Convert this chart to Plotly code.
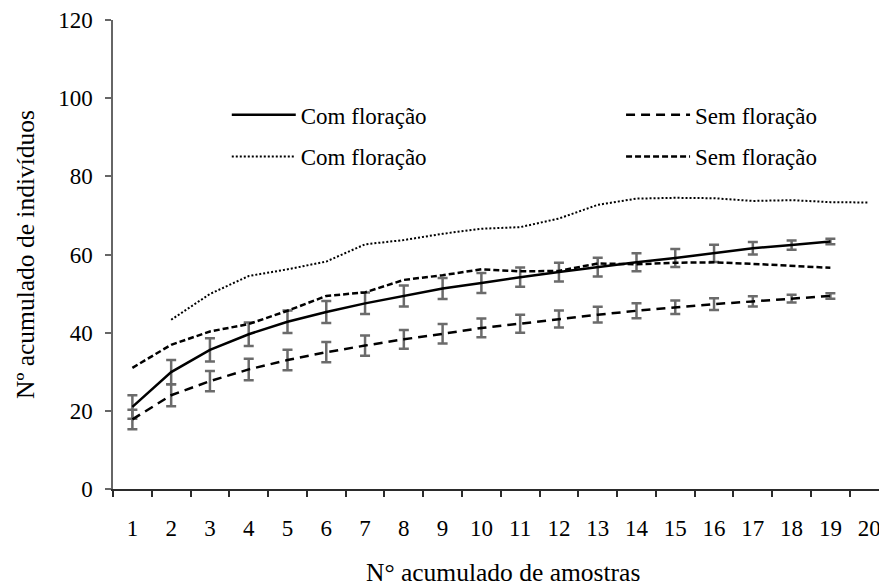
import plotly.graph_objects as go

samples = list(range(1, 21))

com_flor_mean = [21.0, 29.9, 35.6, 39.6, 42.8, 45.3, 47.5, 49.4, 51.3, 52.7, 54.2, 55.5, 56.8, 58.0, 59.1, 60.3, 61.6, 62.4, 63.3]
com_flor_err = [3.0, 3.1, 3.0, 3.0, 2.9, 2.8, 2.75, 2.7, 2.7, 2.55, 2.45, 2.4, 2.4, 2.3, 2.3, 2.2, 1.6, 1.2, 0.7]

sem_flor_mean = [17.8, 24.0, 27.6, 30.6, 33.0, 35.0, 36.7, 38.3, 39.7, 41.2, 42.3, 43.5, 44.6, 45.6, 46.5, 47.3, 48.0, 48.7, 49.4]
sem_flor_err = [2.5, 2.8, 2.6, 2.75, 2.6, 2.6, 2.6, 2.4, 2.5, 2.4, 2.3, 2.2, 2.0, 1.9, 1.7, 1.5, 1.3, 1.0, 0.7]

com_flor_2 = [None, 43.3, 49.9, 54.5, 56.2, 58.2, 62.6, 63.7, 65.3, 66.6, 67.0, 69.2, 72.7, 74.3, 74.5, 74.4, 73.7, 73.9, 73.4, 73.3]
sem_flor_2 = [31.0, 36.9, 40.3, 42.2, 45.6, 49.4, 50.3, 53.5, 54.7, 56.2, 55.7, 55.8, 57.7, 57.5, 57.9, 58.0, 57.6, 57.1, 56.6]

legend_labels = ["Com floração", "Sem floração", "Com floração", "Sem floração"]
x_ticklabels = [str(s) for s in samples]
y_ticks = [0, 20, 40, 60, 80, 100, 120]

FONT = "Liberation Serif, Times New Roman, serif"
FS = 23
TITLE_FS = 25.5
ERR_COLOR = "#6b6b6b"

fig = go.Figure()

fig.add_trace(go.Scatter(
    x=samples[:19], y=com_flor_mean, mode="lines", name=legend_labels[0],
    line=dict(color="black", width=2.5),
    error_y=dict(type="data", array=com_flor_err, color=ERR_COLOR, thickness=2.5, width=5),
    legend="legend",
))
fig.add_trace(go.Scatter(
    x=samples[:19], y=sem_flor_mean, mode="lines", name=legend_labels[1],
    line=dict(color="black", width=2.5, dash="9px,6px"),
    error_y=dict(type="data", array=sem_flor_err, color=ERR_COLOR, thickness=2.5, width=5),
    legend="legend2",
))
fig.add_trace(go.Scatter(
    x=samples, y=com_flor_2, mode="lines", name=legend_labels[2],
    line=dict(color="black", width=2, dash="2px,2px"),
    legend="legend3",
))
fig.add_trace(go.Scatter(
    x=samples[:19], y=sem_flor_2, mode="lines", name=legend_labels[3],
    line=dict(color="black", width=2.5, dash="6px,3px"),
    legend="legend4",
))

def leg(x, y):
    return dict(
        x=x, y=y, orientation="h", xanchor="left", yanchor="middle",
        font=dict(family=FONT, size=FS, color="black"),
        bgcolor="rgba(0,0,0,0)", itemwidth=64,
        itemclick=False, itemdoubleclick=False,
    )

fig.update_layout(
    width=879, height=579,
    margin=dict(l=105, r=0, t=10, b=98),
    paper_bgcolor="white", plot_bgcolor="white",
    font=dict(family=FONT, size=FS, color="black"),
    showlegend=True,
    legend=leg(0.147, 0.798),
    legend2=leg(0.6564, 0.798),
    legend3=leg(0.147, 0.709),
    legend4=leg(0.6564, 0.709),
    xaxis=dict(
        range=[0.5, 20.46], tickvals=samples, ticktext=x_ticklabels,
        ticks="", showgrid=False, zeroline=False,
        showline=True, linecolor="#2b2b2b", linewidth=1.5,
        ticklabelstandoff=18, ticklabeloverflow="allow",
        minor=dict(tick0=0.5, dtick=1, ticks="outside", ticklen=6, tickcolor="#2b2b2b", tickwidth=1.5, showgrid=False),
        tickfont=dict(family=FONT, size=FS, color="black"),
    ),
    yaxis=dict(
        range=[0, 120], tickvals=y_ticks, ticks="outside", ticklen=6,
        tickcolor="#666666", tickwidth=1.5,
        showgrid=False, zeroline=False, showline=True, linecolor="#666666", linewidth=1.5,
        ticklabelstandoff=8, ticklabeloverflow="allow",
        tickfont=dict(family=FONT, size=FS, color="black"),
    ),
    annotations=[
        dict(text="N° acumulado de amostras", xref="paper", yref="paper", x=0.504, y=-0.178,
             xanchor="center", yanchor="middle", showarrow=False,
             font=dict(family=FONT, size=TITLE_FS, color="black")),
        dict(text="Nº acumulado de indivíduos", xref="paper", yref="paper", x=-0.113, y=0.5,
             xanchor="center", yanchor="middle", textangle=-90, showarrow=False,
             font=dict(family=FONT, size=TITLE_FS, color="black")),
    ],
)

fig.write_html("out.html")
